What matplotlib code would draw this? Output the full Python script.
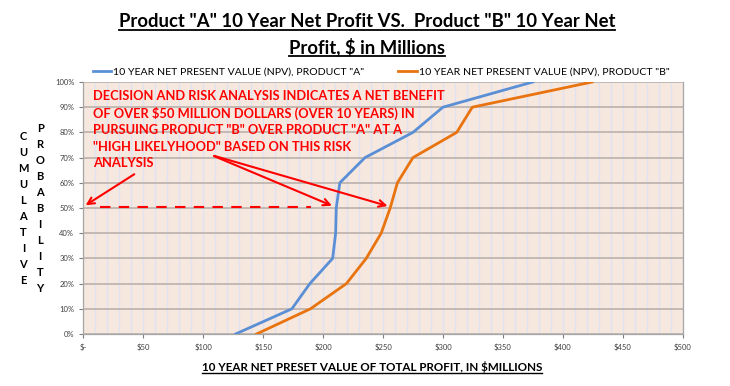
import matplotlib
matplotlib.use("Agg")
import matplotlib.pyplot as plt
from matplotlib.lines import Line2D
from matplotlib.ticker import FuncFormatter, MultipleLocator

# cumulative probability levels (%)
prob = [0, 10, 20, 30, 40, 50, 60, 70, 80, 90, 100]
# 10 year NPV ($M)
npv_a = [127, 174, 189, 208, 210.5, 211, 214, 235, 275, 300, 375]
npv_b = [144.5, 189.5, 219.5, 236, 248.5, 256, 262, 275, 311.5, 324.5, 424.5]

x_ticks = list(range(0, 501, 50))
y_ticks = list(range(0, 101, 10))

label_a = '10 YEAR NET PRESENT VALUE (NPV), PRODUCT "A"'
label_b = '10 YEAR NET PRESENT VALUE (NPV), PRODUCT "B"'
note = ('DECISION AND RISK ANALYSIS INDICATES A NET BENEFIT\n'
        'OF OVER $50 MILLION DOLLARS (OVER 10 YEARS) IN\n'
        'PURSUING PRODUCT "B" OVER PRODUCT "A" AT A\n'
        '"HIGH LIKELYHOOD" BASED ON THIS RISK\n'
        'ANALYSIS')

FONT = 'Lato'
RED = '#FF0000'
BLUE = '#5B8FD5'
ORANGE = '#E8730F'

fig = plt.figure(figsize=(7.3, 3.86), dpi=100)
ax = fig.add_axes([0.1141, 0.1347, 0.8211, 0.6529])
ax.set_facecolor('#F6E8DE')

ax.plot(npv_a, prob, color=BLUE, lw=2.0, label=label_a, zorder=3)
ax.plot(npv_b, prob, color=ORANGE, lw=2.0, label=label_b, zorder=3)

ax.set_xlim(0, 500)
ax.set_ylim(0, 100)
ax.set_xticks(x_ticks)
ax.set_yticks(y_ticks)
ax.xaxis.set_minor_locator(MultipleLocator(10))
ax.xaxis.set_major_formatter(FuncFormatter(lambda v, p: '$-' if v == 0 else f'${v:.0f}'))
ax.yaxis.set_major_formatter(FuncFormatter(lambda v, p: f'{v:.0f}%'))
ax.tick_params(axis='both', labelsize=5.5, colors='#7F7F7F', labelcolor='#404040',
               length=3, width=0.8)
ax.tick_params(axis='x', which='minor', length=0)
for lab in ax.get_xticklabels() + ax.get_yticklabels():
    lab.set_family(FONT)

# light vertical grid every $10, darker horizontal grid every 10%
ax.grid(True, which='minor', axis='x', color='#E0E2F2', lw=1.0, zorder=0)
ax.grid(True, which='major', axis='x', color='#E0E2F2', lw=1.0, zorder=0)
ax.grid(True, which='major', axis='y', color='#B5ADA6', lw=1.1, zorder=1)
ax.set_axisbelow(True)
ax.spines['top'].set_visible(False)
for s in ['left', 'bottom', 'right']:
    ax.spines[s].set_color('#A6A6A6')
    ax.spines[s].set_linewidth(0.9)

ax.legend(loc='lower center', bbox_to_anchor=(0.497, 0.995), ncol=2, frameon=False,
          prop={'family': FONT, 'size': 7.55}, handlelength=1.75, handletextpad=0.2,
          columnspacing=3.2, borderaxespad=0.2)

# annotation text and arrows
ax.text(8.3, 97, note, color=RED, fontsize=9.3, fontweight='bold', family=FONT,
        va='top', ha='left', linespacing=1.45, zorder=4)
arrow = dict(arrowstyle='->', color=RED, lw=1.5, mutation_scale=12)
ax.annotate('', xy=(0, 50.5), xytext=(44.5, 64), arrowprops=arrow, zorder=4)
ax.annotate('', xy=(209.5, 50.5), xytext=(107, 71), arrowprops=arrow, zorder=4)
ax.annotate('', xy=(256, 50.5), xytext=(107, 71), arrowprops=arrow, zorder=4)
ax.plot([14, 190], [50.5, 50.5], color=RED, lw=1.5, ls=(0, (5, 4)), zorder=4)

# titles and axis labels
t1 = fig.text(0.503, 0.944, 'Product "A" 10 Year Net Profit VS.  Product "B" 10 Year Net',
              ha='center', va='center', fontsize=13.3, fontweight='bold', family=FONT)
t2 = fig.text(0.503, 0.879, 'Profit, $ in Millions',
              ha='center', va='center', fontsize=13.3, fontweight='bold', family=FONT)
xl = fig.text(0.51, 0.049, '10 YEAR NET PRESET VALUE OF TOTAL PROFIT, IN $MILLIONS',
              ha='center', va='center', fontsize=8.4, fontweight='bold', family=FONT)
fig.text(0.032, 0.46, '\n'.join('CUMULATIVE'), ha='center', va='center',
         fontsize=8, fontweight='bold', family=FONT, linespacing=1.55)
fig.text(0.055, 0.46, '\n'.join('PROBABILITY'), ha='center', va='center',
         fontsize=8, fontweight='bold', family=FONT, linespacing=1.55)

# underline the title lines and x label
fig.canvas.draw()
r = fig.canvas.get_renderer()
W, H = fig.bbox.width, fig.bbox.height
for t, lw in [(t1, 1.3), (t2, 1.3), (xl, 1.0)]:
    bb = t.get_window_extent(r)
    y = (bb.y0 + 0.5) / H
    fig.add_artist(Line2D([bb.x0 / W, bb.x1 / W], [y, y], color='black', lw=lw,
                          transform=fig.transFigure))

fig.savefig('out.png', dpi=100)
